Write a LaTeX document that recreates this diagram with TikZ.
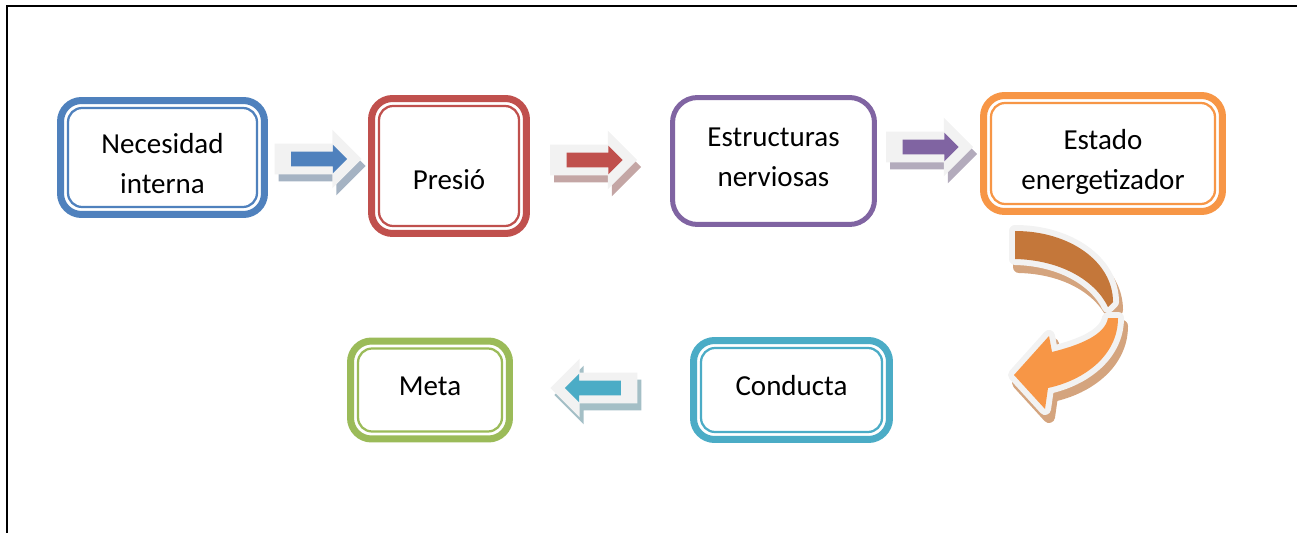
\documentclass[tikz,border=0pt]{standalone}
\usepackage{fontspec}
\setmainfont{Carlito}
\usetikzlibrary{shapes.arrows,calc}
\definecolor{motBlue}{HTML}{4F81BD}
\definecolor{motRed}{HTML}{C0504D}
\definecolor{motPurple}{HTML}{8064A2}
\definecolor{motOrange}{HTML}{F79646}
\definecolor{motOrangeDark}{HTML}{C4773A}
\definecolor{motGreen}{HTML}{9BBB59}
\definecolor{motTeal}{HTML}{4BACC6}
\definecolor{motArrowBg}{HTML}{F2F2F2}
\definecolor{motCurveShadow}{HTML}{D4A47E}
\tikzset{
    % text inside the boxes
    motText/.style={align=center, inner sep=0pt, font=\fontsize{16.5}{22.7}\selectfont},
    % boxes with a thick outer line and a thin inner line
    motBox/.style={
        draw=#1,
        line width=0.14cm,
        rounded corners=0.42cm,
        fill=white,
        inner sep=0pt,
        path picture={\draw[#1, line width=0.045cm, rounded corners=0.28cm]
            ([shift={(0.15cm,-0.15cm)}]path picture bounding box.north west) rectangle
            ([shift={(-0.15cm,0.15cm)}]path picture bounding box.south east);}
    },
    motPlainBox/.style={
        draw=#1,
        line width=0.1cm,
        rounded corners=0.5cm,
        fill=white,
        inner sep=0pt
    },
    % block arrows between the boxes
    motArrowBase/.style={single arrow, single arrow tip angle=90, inner xsep=0pt, inner ysep=0.3cm,
        minimum height=1.74cm, single arrow head extend=0.28cm, fill=motArrowBg},
    motArrowShadow/.style={motArrowBase, fill=#1!45!gray!60, xshift=0.08cm, yshift=-0.14cm},
    motArrowInner/.style={single arrow, single arrow tip angle=90, inner xsep=0pt, inner ysep=0.14cm,
        minimum height=1.12cm, single arrow head extend=0.14cm, fill=#1},
    % curved arrow parts
    motBandBack/.style={insert path={(1015,231) .. controls (1070,231) and (1113,262) .. (1113,302)
        -- (1108,307) .. controls (1095,280) and (1060,260) .. (1015,259) -- cycle}},
    motBandFront/.style={insert path={(1108,318) -- (1118,318) .. controls (1118,355) and (1085,380) .. (1048,388)
        -- (1045,409) -- (1014,375) -- (1049,336) -- (1052,352) .. controls (1080,345) and (1105,335) .. (1108,318) -- cycle}}
}

\begin{document}
\begin{tikzpicture}[x=0.02cm, y=-0.02cm]
    \useasboundingbox (0,0) rectangle (1297,533);

    % Frame
    \draw[line width=0.04cm] (7,533) -- (7,6) -- (1297,6);

    % Boxes
    \node[motBox=motBlue, minimum width=4.08cm, minimum height=2.28cm,
        label={[motText, yshift=-0.12cm]center:Necesidad\\interna}] (necesidad) at (162.5,157.5) {};
    \node[motBox=motRed, minimum width=3.10cm, minimum height=2.70cm,
        label={[motText, yshift=-0.28cm]center:Presió}] (presion) at (449,166) {};
    \node[motPlainBox=motPurple, minimum width=4.04cm, minimum height=2.54cm,
        label={[motText, yshift=0.08cm]center:Estructuras\\nerviosas}] (estructuras) at (773.5,161) {};
    \node[motBox=motOrange, minimum width=4.78cm, minimum height=2.32cm,
        label={[motText, yshift=-0.16cm]center:Estado\\energetizador}] (estado) at (1103,153.5) {};
    \node[motBox=motTeal, minimum width=3.92cm, minimum height=1.98cm,
        label={[motText, yshift=0.08cm]center:Conducta}] (conducta) at (791.5,390) {};
    \node[motBox=motGreen, minimum width=3.18cm, minimum height=1.96cm,
        label={[motText, yshift=0.08cm]center:Meta}] (meta) at (430,390) {};

    % Straight arrows
    \node[motArrowShadow=motBlue] (flecha1s) at (310.5,159) {};
    \node[motArrowBase] (flecha1) at (310.5,159) {};
    \node[motArrowInner=motBlue] at ([xshift=0.1cm]flecha1.center) {};

    \node[motArrowShadow=motRed] (flecha2s) at (586,160) {};
    \node[motArrowBase] (flecha2) at (586,160) {};
    \node[motArrowInner=motRed] at ([xshift=0.1cm]flecha2.center) {};

    \node[motArrowShadow=motPurple] (flecha3s) at (922,147) {};
    \node[motArrowBase] (flecha3) at (922,147) {};
    \node[motArrowInner=motPurple] at ([xshift=0.1cm]flecha3.center) {};

    \node[motArrowShadow=motTeal, shape border rotate=180] (flecha4s) at (601.5,388) {};
    \node[motArrowBase, shape border rotate=180] (flecha4) at (601.5,388) {};
    \node[motArrowInner=motTeal, shape border rotate=180] at ([xshift=-0.1cm]flecha4.center) {};

    % Curved arrow
    \begin{scope}[shift={(4,8)}]
        \draw[motCurveShadow, fill=motCurveShadow, line width=0.24cm, line join=round, motBandBack];
        \draw[motCurveShadow, fill=motCurveShadow, line width=0.24cm, line join=round, motBandFront];
    \end{scope}
    \draw[motArrowBg, fill=motArrowBg, line width=0.24cm, line join=round, motBandBack];
    \draw[motArrowBg, fill=motArrowBg, line width=0.24cm, line join=round, motBandFront];
    \fill[motOrangeDark, motBandBack];
    \fill[motOrange, motBandFront];
\end{tikzpicture}
\end{document}
